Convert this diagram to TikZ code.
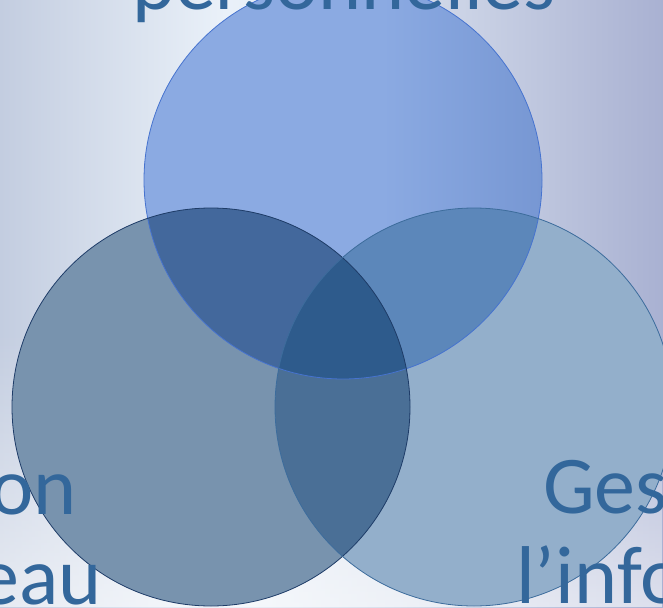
\documentclass[tikz,border=0pt]{standalone}
\usepackage{fontspec}
\setmainfont{Carlito}
\usetikzlibrary{%
  positioning
 ,fadings
}
\definecolor{bgleft}{HTML}{C3CDE0}
\definecolor{bgmid}{HTML}{EAF1F9}
\definecolor{bgmidb}{HTML}{D6DEEC}
\definecolor{bgright}{HTML}{A9B1D2}
\definecolor{topA}{HTML}{8BAAE2}
\definecolor{topB}{HTML}{7797D3}
\definecolor{leftA}{HTML}{7893AE}
\definecolor{rightA}{HTML}{93AFCB}
\definecolor{topleft}{HTML}{43689C}
\definecolor{topright}{HTML}{5C87BA}
\definecolor{leftright}{HTML}{4A6F96}
\definecolor{allthree}{HTML}{2E5B8C}
\definecolor{toprim}{HTML}{4673CF}
\definecolor{leftrim}{HTML}{1E3C68}
\definecolor{rightrim}{HTML}{3C6C9C}
\definecolor{lbltext}{HTML}{33679B}
\pgfdeclarehorizontalshading{backdrop}{100bp}{color(0bp)=(bgleft); color(25bp)=(bgleft); color(42bp)=(bgmid); color(55bp)=(bgmidb); color(75bp)=(bgright); color(100bp)=(bgright)}
\pgfdeclarehorizontalshading{topset}{100bp}{color(0bp)=(topA); color(55bp)=(topA); color(75bp)=(topB); color(100bp)=(topB)}
\tikzstyle{ring}=[circle,minimum size=398pt,inner sep=0pt]
\tikzstyle{rim}=[line width=0.8pt]
\tikzstyle{lbl}=[text=lbltext,font=\fontsize{82}{98}\selectfont,inner sep=0pt]
\def\rad{199pt}

\begin{document}
\begin{tikzpicture}[x=1pt,y=-1pt]
  \useasboundingbox (0,0) rectangle (663,607);
  \clip (0,0) rectangle (663,607);
  \shade[shading=backdrop] (0,0) rectangle (663,607);
  \fill[white,opacity=0.6,path fading=north] (0,330) rectangle (663,607);
% the three sets
  \node[ring] (pers) at (343,180) {};
  \node[ring,on grid,below left=227pt and 132pt of pers] (admin) {};
  \node[ring,on grid,below right=227pt and 131pt of pers] (info) {};
% 
  \shade[shading=topset] (pers.center) circle[radius=\rad];
  \fill[leftA] (admin.center) circle[radius=\rad];
  \fill[rightA] (info.center) circle[radius=\rad];
  \begin{scope}
    \clip (pers.center) circle[radius=\rad];
    \fill[topleft] (admin.center) circle[radius=\rad];
    \fill[topright] (info.center) circle[radius=\rad];
  \end{scope}
  \begin{scope}
    \clip (admin.center) circle[radius=\rad];
    \fill[leftright] (info.center) circle[radius=\rad];
    \clip (pers.center) circle[radius=\rad];
    \fill[allthree] (info.center) circle[radius=\rad];
  \end{scope}
  \draw[rim,toprim] (pers.center) circle[radius=\rad];
  \draw[rim,leftrim] (admin.center) circle[radius=\rad];
  \draw[rim,rightrim] (info.center) circle[radius=\rad];
% labels
  \node[lbl,anchor=base] (perstxt) at (344,10) {personnelles};
  \node[lbl,anchor=base east] (admintxt) at (77,514) {on};
  \node[lbl,anchor=base east] (adminsub) at (102,604) {eau};
  \node[lbl,anchor=base west] (infotxt) at (543,513) {Ges};
  \node[lbl,anchor=base west] (infosub) at (516,603) {l’info};
\end{tikzpicture}
\end{document}
